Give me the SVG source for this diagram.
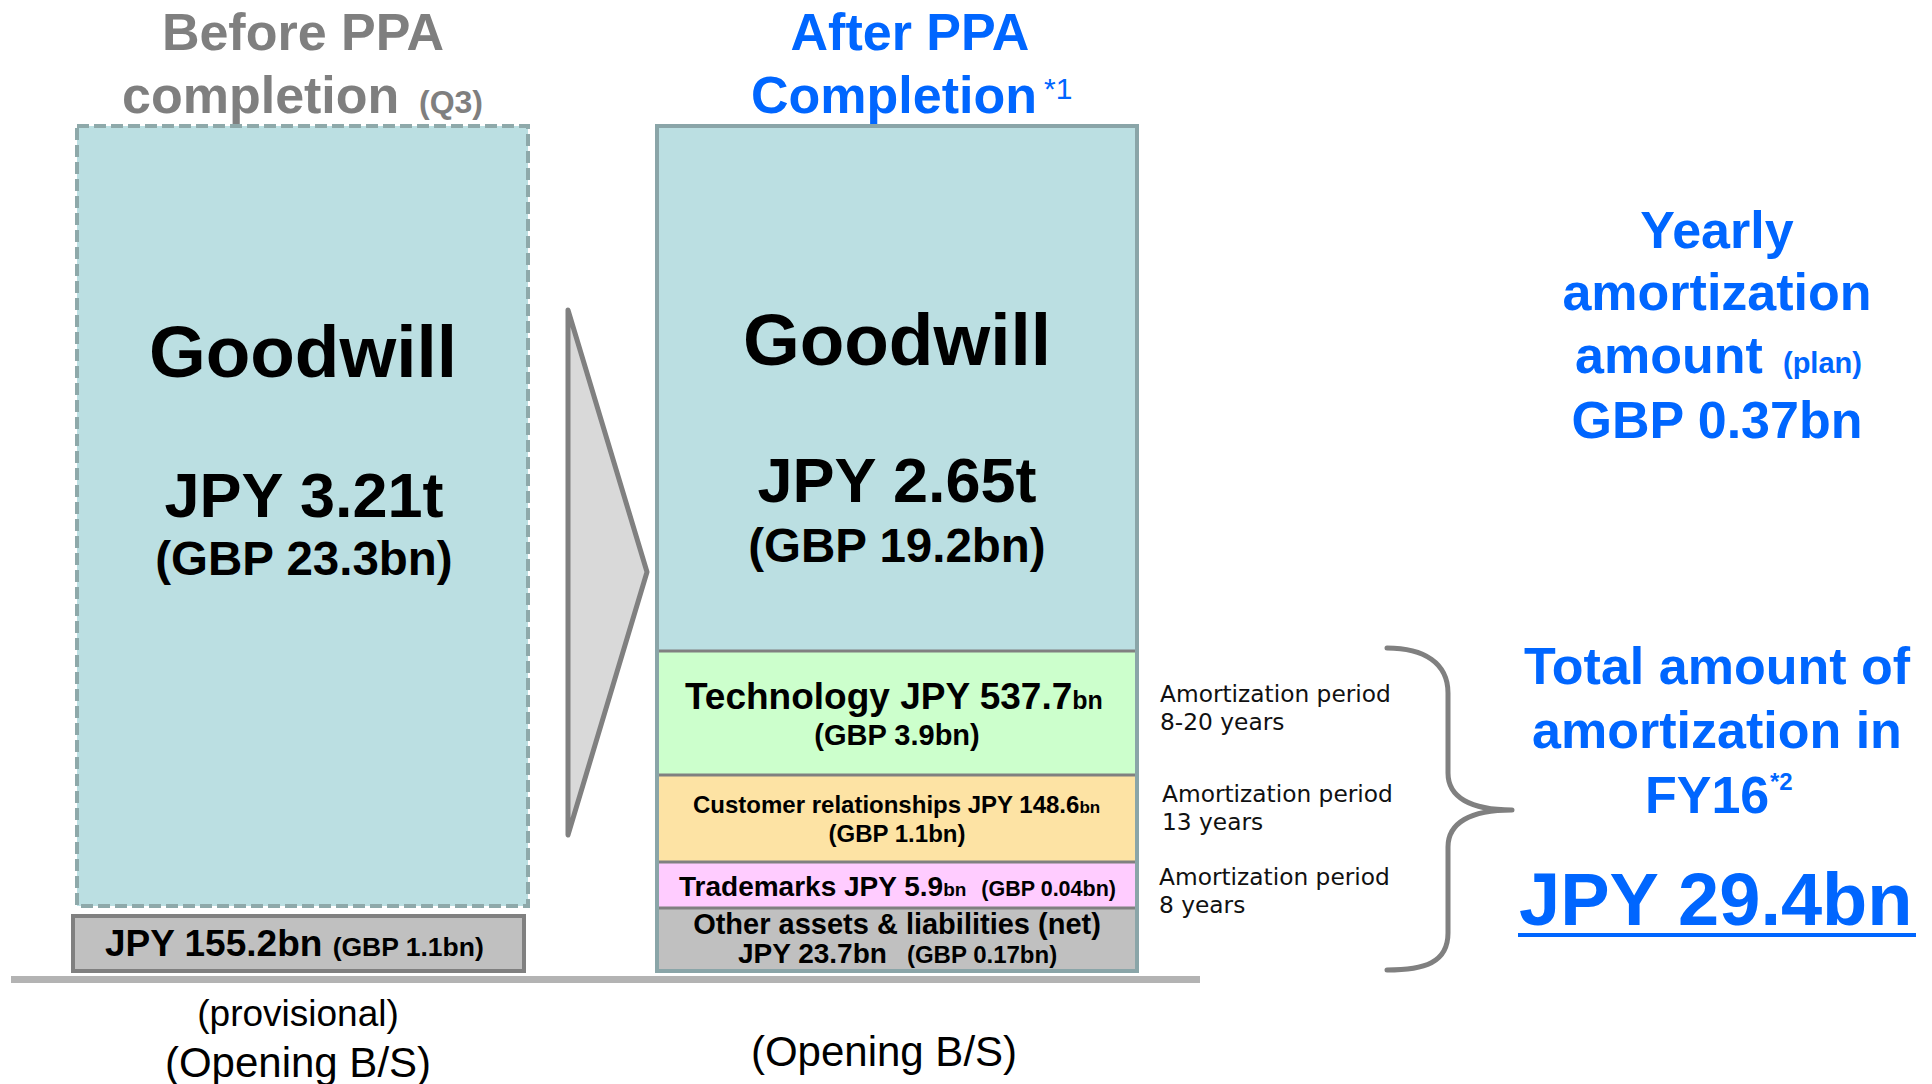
<svg xmlns="http://www.w3.org/2000/svg" width="1932" height="1084" viewBox="0 0 1932 1084">
<style>
text{font-family:"Liberation Sans",Arial,sans-serif;font-weight:bold;fill:#000}
.t-gray{fill:#7f7f7f}
.blue{fill:#0066ff}
.reg{font-weight:normal}
.mid{text-anchor:middle}
.per{font-family:"DejaVu Sans","Noto Sans",sans-serif;font-weight:normal;font-size:23.3px;fill:#111}
.sec{stroke:#808080;stroke-width:3}
</style>
<rect width="1932" height="1084" fill="#fff"/>
<g id="title-before">
<text class="t-gray mid" x="303" y="50" font-size="52">Before PPA</text>
<text class="t-gray" x="122" y="113" font-size="52">completion<tspan x="419" font-size="32">(Q3)</tspan></text>
</g>
<g id="title-after">
<text class="blue mid" x="910" y="50" font-size="52">After PPA</text>
<text class="blue" x="751" y="113" font-size="52">Completion<tspan class="reg" x="1044" y="99" font-size="30" font-weight="normal">*1</tspan></text>
</g>
<g id="goodwill-before">
<rect x="77" y="126" width="451" height="780" fill="#bbdfe2" stroke="#8ea9aa" stroke-width="4" stroke-dasharray="12 5"/>
<text class="mid" x="303" y="377" font-size="73">Goodwill</text>
<text class="mid" x="304" y="517" font-size="63">JPY 3.21t</text>
<text class="mid" x="304" y="575" font-size="47.5">(GBP 23.3bn)</text>
</g>
<g id="other-before">
<rect x="73" y="916" width="451" height="55" fill="#c0c0c0" stroke="#808080" stroke-width="4"/>
<text x="105" y="956" font-size="37">JPY 155.2bn <tspan font-size="26.5">(GBP 1.1bn)</tspan></text>
</g>
<g id="arrow">
<polygon points="568,310 647,572 568,835" fill="#d9d9d9" stroke="#808080" stroke-width="5" stroke-linejoin="round"/>
</g>
<g id="after-box">
<rect x="657" y="126" width="480" height="525" fill="#bbdfe2"/>
<rect x="657" y="651" width="480" height="124" fill="#ccffcc"/>
<rect x="657" y="775" width="480" height="87" fill="#fde3a4"/>
<rect x="657" y="862" width="480" height="46" fill="#ffccff"/>
<rect x="657" y="908" width="480" height="63" fill="#c0c0c0"/>
<line class="sec" x1="657" y1="651" x2="1137" y2="651" stroke="#8ea9aa"/>
<line class="sec" x1="657" y1="775" x2="1137" y2="775"/>
<line class="sec" x1="657" y1="862" x2="1137" y2="862"/>
<line class="sec" x1="657" y1="908" x2="1137" y2="908"/>
<rect x="657" y="126" width="480" height="845" fill="none" stroke="#8aa5a8" stroke-width="4"/>
</g>
<g id="goodwill-after">
<text class="mid" x="897" y="365" font-size="73">Goodwill</text>
<text class="mid" x="897" y="502" font-size="63">JPY 2.65t</text>
<text class="mid" x="897" y="562" font-size="47.5">(GBP 19.2bn)</text>
</g>
<g id="technology">
<text x="685" y="709" font-size="37">Technology JPY 537.7<tspan font-size="25">bn</tspan></text>
<text class="mid" x="897" y="745" font-size="29">(GBP 3.9bn)</text>
</g>
<g id="customer">
<text x="693" y="813" font-size="24">Customer relationships JPY 148.6<tspan font-size="17">bn</tspan></text>
<text class="mid" x="897" y="842" font-size="24">(GBP 1.1bn)</text>
</g>
<g id="trademarks">
<text x="679" y="896" font-size="28">Trademarks JPY 5.9<tspan font-size="19">bn</tspan><tspan dx="15" font-size="21.5">(GBP 0.04bn)</tspan></text>
</g>
<g id="other-after">
<text class="mid" x="897" y="934" font-size="29">Other assets &amp; liabilities (net)</text>
<text x="738" y="963" font-size="28">JPY 23.7bn<tspan dx="20" font-size="24">(GBP 0.17bn)</tspan></text>
</g>
<g id="ground">
<rect x="11" y="976" width="1189" height="7" fill="#b3b3b3"/>
</g>
<g id="labels-bottom">
<text class="reg mid" x="298" y="1026" font-size="37">(provisional)</text>
<text class="reg mid" x="298" y="1077" font-size="42">(Opening B/S)</text>
<text class="reg mid" x="884" y="1066" font-size="42">(Opening B/S)</text>
</g>
<g id="periods">
<text class="per" x="1160" y="702">Amortization period</text>
<text class="per" x="1160" y="730">8-20 years</text>
<text class="per" x="1162" y="802">Amortization period</text>
<text class="per" x="1162" y="830">13 years</text>
<text class="per" x="1159" y="885">Amortization period</text>
<text class="per" x="1159" y="913">8 years</text>
</g>
<g id="connectors">
<path d="M1387,648 C1424,648 1448,663 1448,693 L1448,773 C1448,797 1470,810 1512,810 C1470,810 1448,823 1448,847 L1448,933 C1448,963 1424,970 1387,970" fill="none" stroke="#808080" stroke-width="5" stroke-linecap="round" stroke-linejoin="round"/>
</g>
<g id="yearly">
<text class="blue mid" x="1717" y="248" font-size="52">Yearly</text>
<text class="blue mid" x="1717" y="310" font-size="52">amortization</text>
<text class="blue" x="1575" y="373" font-size="52">amount<tspan x="1783" font-size="29">(plan)</tspan></text>
<text class="blue mid" x="1717" y="438" font-size="52">GBP 0.37bn</text>
</g>
<g id="total">
<text class="blue mid" x="1717" y="684" font-size="52">Total amount of</text>
<text class="blue mid" x="1717" y="748" font-size="52">amortization in</text>
<text class="blue" x="1645" y="813" font-size="52">FY16<tspan x="1770" y="790" font-size="24">*2</tspan></text>
<text class="blue" x="1519" y="925" font-size="74">JPY 29.4bn</text>
<rect x="1518" y="933" width="398" height="4" fill="#0066ff"/>
</g>
</svg>
